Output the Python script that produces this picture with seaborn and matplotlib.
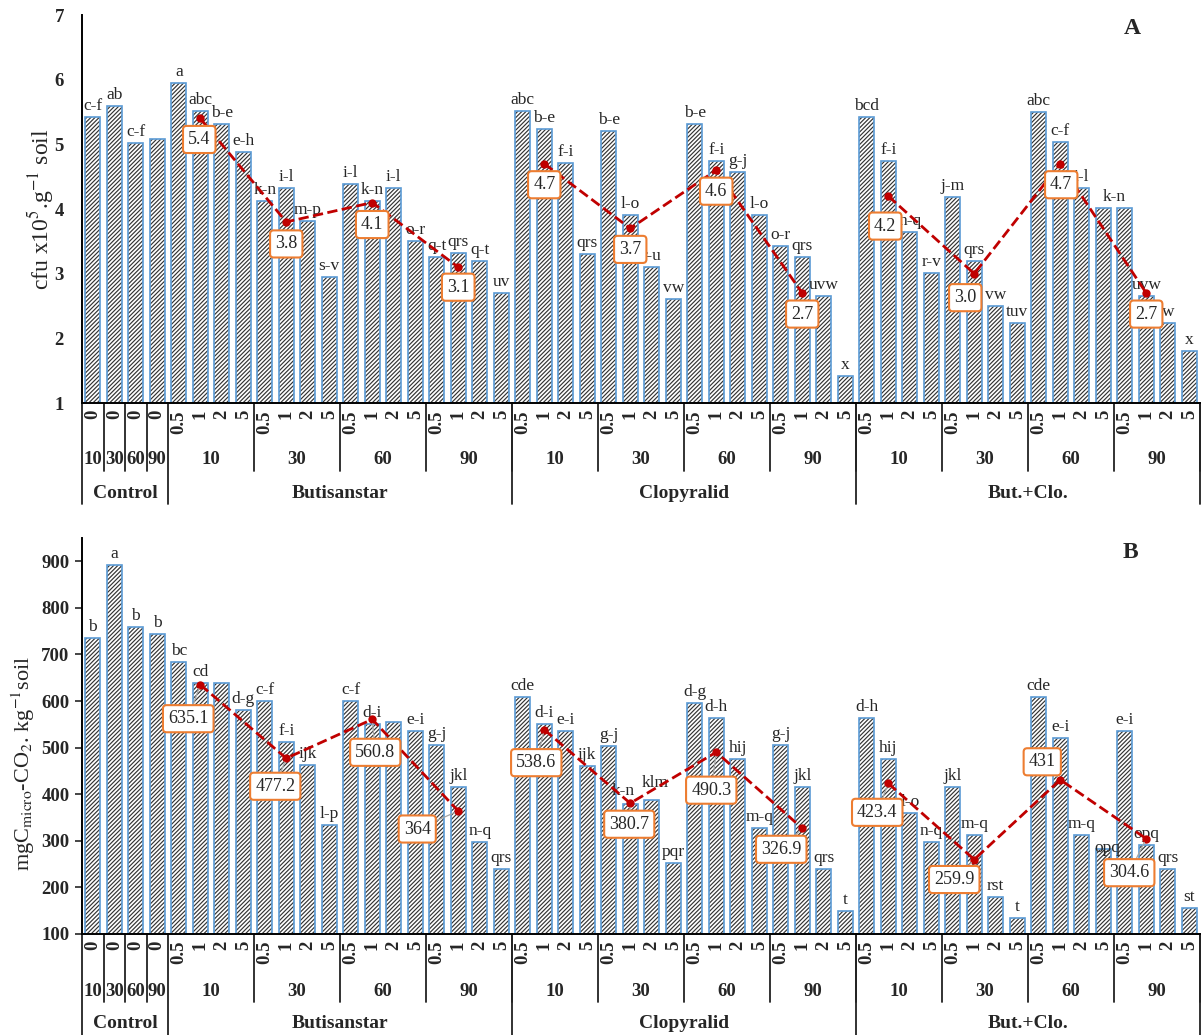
import numpy as np
import pandas as pd
import matplotlib
matplotlib.use("Agg")
import matplotlib.pyplot as plt
import seaborn as sns

herbicides = ["Control", "Butisanstar", "Clopyralid", "But.+Clo."]
days = ["10", "30", "60", "90"]
doses = ["0.5", "1", "2", "5"]

# panel A - cfu x10^5 / g soil (per herbicide: day 10, 30, 60, 90 x dose 0.5, 1, 2, 5)
cfu_control = [5.42, 5.60, 5.02, 5.08]
cfu_but = [5.95, 5.52, 5.32, 4.88, 4.12, 4.32, 3.81, 2.95,
           4.38, 4.12, 4.32, 3.51, 3.26, 3.32, 3.20, 2.70]
cfu_clo = [5.51, 5.24, 4.71, 3.31, 5.21, 3.90, 3.10, 2.61,
           5.31, 4.75, 4.57, 3.91, 3.43, 3.26, 2.66, 1.42]
cfu_mix = [5.42, 4.74, 3.65, 3.01, 4.18, 3.20, 2.50, 2.24,
           5.50, 5.04, 4.32, 4.01, 4.01, 2.65, 2.24, 1.81]
cfu_letters = ["c-f", "ab", "c-f", "",
               "a", "abc", "b-e", "e-h", "k-n", "i-l", "m-p", "s-v",
               "i-l", "k-n", "i-l", "o-r", "q-t", "qrs", "q-t", "uv",
               "abc", "b-e", "f-i", "qrs", "b-e", "l-o", "r-u", "vw",
               "b-e", "f-i", "g-j", "l-o", "o-r", "qrs", "uvw", "x",
               "bcd", "f-i", "n-q", "r-v", "j-m", "qrs", "vw", "tuv",
               "abc", "c-f", "i-l", "k-n", "", "uvw", "w", "x"]
cfu_means = [[5.4, 3.8, 4.1, 3.1], [4.7, 3.7, 4.6, 2.7], [4.2, 3.0, 4.7, 2.7]]

# panel B - mg C micro-CO2 / kg soil
co2_control = [736, 893, 758, 744]
co2_but = [684, 639, 639, 580, 600, 512, 462, 333,
           601, 551, 555, 536, 506, 416, 298, 239]
co2_clo = [609, 551, 536, 461, 504, 380, 388, 253,
           596, 564, 476, 327, 506, 416, 239, 149]
co2_mix = [564, 476, 359, 297, 416, 312, 179, 134,
           609, 520, 312, 282, 536, 291, 239, 156]
co2_letters = ["b", "a", "b", "b",
               "bc", "cd", "", "d-g", "c-f", "f-i", "ijk", "l-p",
               "c-f", "d-i", "", "e-i", "g-j", "jkl", "n-q", "qrs",
               "cde", "d-i", "e-i", "ijk", "g-j", "k-n", "klm", "pqr",
               "d-g", "d-h", "hij", "m-q", "g-j", "jkl", "qrs", "t",
               "d-h", "hij", "l-o", "n-q", "jkl", "m-q", "rst", "t",
               "cde", "e-i", "m-q", "opq", "e-i", "opq", "qrs", "st"]
co2_means = [[635.1, 477.2, 560.8, 364], [538.6, 380.7, 490.3, 326.9],
             [423.4, 259.9, 431, 304.6]]

# box offsets from the mean marker (pixels, right / down)
box_off_a = [[(-1, 21), (0, 22), (0, 22), (0, 20)],
             [(0, 21), (0, 21), (0, 21), (0, 21)],
             [(-3, 30), (-9, 24), (1, 21), (0, 21)]]
box_off_b = [[(-12, 34), (-11, 28), (3, 33), (-41, 18)],
             [(-8, 33), (-1, 21), (-5, 38), (-21, 21)],
             [(-11, 29), (-20, 20), (-18, -18), (-17, 34)]]
# a few letters sit off-centre in the original (slot: pixels right / up)
nudge_a = {47: (11, 0)}
nudge_b = {25: (-7, 2), 26: (3, 6), 47: (4, -10)}

HATCH = "#333333"
BLUE = "#5B9BD5"
RED = "#C00000"
ORANGE = "#ED7D31"
FS_TICK = 13.5

sns.set_style("white")
plt.rcParams["font.family"] = ["Liberation Serif", "DejaVu Serif"]
plt.rcParams["mathtext.fontset"] = "stix"
plt.rcParams["hatch.linewidth"] = 0.85

# slot layout: 4 control slots then herbicide x day x dose
slot_dose = ["0"] * 4 + doses * 12
slot_day = days + [d for _ in range(3) for d in days for _ in doses]


def draw_panel(ax, values, letters, means, fmt, offsets, leader, nudge):
    df = pd.DataFrame({"slot": np.arange(len(values)), "value": values})
    sns.barplot(data=df, x="slot", y="value", ax=ax, color="white", saturation=1,
                width=0.68, edgecolor=HATCH, linewidth=0, hatch="////////")
    sns.barplot(data=df, x="slot", y="value", ax=ax, color=BLUE, saturation=1,
                width=0.68, fill=False, linewidth=1.2)

    for i, (v, t) in enumerate(zip(values, letters)):
        if t:
            nx, ny = nudge.get(i, (0, 0))
            ax.annotate(t, (i, v), xytext=(nx, 3 + ny), textcoords="offset pixels",
                        ha="center", va="bottom", fontsize=12.5)

    rows = []
    for h, hm in enumerate(means):
        for d, m in enumerate(hm):
            rows.append({"x": 4 + h * 16 + d * 4 + 1, "mean": m, "herb": herbicides[h + 1],
                         "h": h, "d": d})
    mdf = pd.DataFrame(rows)
    sns.lineplot(data=mdf, x="x", y="mean", units="herb", estimator=None, ax=ax,
                 color=RED, linestyle="--", lw=2, marker="o", markersize=6,
                 markeredgewidth=0, zorder=5)

    for _, r in mdf.iterrows():
        dx, dy = offsets[int(r["h"])][int(r["d"])]
        arrow = dict(arrowstyle="-", color="#a6a6a6", lw=0.9, shrinkA=0, shrinkB=3) if leader else None
        ax.annotate(fmt(r["mean"]), (r["x"], r["mean"]), xytext=(dx, -dy),
                    textcoords="offset pixels", ha="center", va="center", fontsize=13,
                    bbox=dict(boxstyle="round,pad=0.28,rounding_size=0.2", fc="white",
                              ec=ORANGE, lw=1.5),
                    arrowprops=arrow, zorder=6)

    ax.set_xlim(-0.5, len(values) - 0.5)
    ax.set_xticks([])
    ax.set_xlabel("")
    sns.despine(ax=ax)
    for s in ["left", "bottom"]:
        ax.spines[s].set_color("black")
        ax.spines[s].set_linewidth(1.4)

    # multi-level category axis
    trans = ax.get_xaxis_transform()
    hpx = ax.bbox.height

    def fy(px):
        return -px / hpx

    for i, lab in enumerate(slot_dose):
        ax.text(i, fy(7), lab, rotation=90, ha="center", va="top", transform=trans,
                fontweight="bold", fontsize=FS_TICK)
    for i in range(4):
        ax.text(i, fy(57), slot_day[i], ha="center", va="center", transform=trans,
                fontweight="bold", fontsize=FS_TICK)
    for g in range(12):
        ax.text(4 + g * 4 + 1.5, fy(57), days[g % 4], ha="center", va="center",
                transform=trans, fontweight="bold", fontsize=FS_TICK)
    herb_centers = [1.5, 11.5, 27.5, 43.5]
    for x, name in zip(herb_centers, herbicides):
        ax.text(x, fy(90), name, ha="center", va="center", transform=trans,
                fontweight="bold", fontsize=FS_TICK + 0.5)
    day_bounds = [0.5, 1.5, 2.5] + [3.5 + 4 * k for k in range(1, 13)]
    herb_bounds = [-0.5, 3.5, 19.5, 35.5, 51.5]
    for x in day_bounds:
        ax.plot([x, x], [0, fy(68)], transform=trans, clip_on=False, color="#222222", lw=1.3)
    for x in herb_bounds:
        ax.plot([x, x], [0, fy(101)], transform=trans, clip_on=False, color="#222222", lw=1.3)


fig = plt.figure(figsize=(12.04, 10.35), dpi=100)
ax_a = fig.add_axes([82 / 1204, 1 - 403 / 1035, 1118 / 1204, 388 / 1035])
ax_b = fig.add_axes([82 / 1204, 1 - 934 / 1035, 1118 / 1204, 396 / 1035])

draw_panel(ax_a, cfu_control + cfu_but + cfu_clo + cfu_mix, cfu_letters, cfu_means,
           lambda v: f"{v:.1f}", box_off_a, False, nudge_a)
ax_a.set_ylim(1, 7)
ax_a.set_yticks(range(1, 8))
ax_a.tick_params(axis="y", length=0, pad=13)
for lab in ax_a.get_yticklabels():
    lab.set_fontweight("bold")
    lab.set_fontsize(FS_TICK)
ax_a.set_ylabel("cfu x10$^{5}$.g$^{-1}$ soil", fontsize=17)
ax_a.yaxis.set_label_coords(-0.023, 0.5)

draw_panel(ax_b, co2_control + co2_but + co2_clo + co2_mix, co2_letters, co2_means,
           lambda v: f"{v:g}", box_off_b, True, nudge_b)
ax_b.set_ylim(100, 950)
ax_b.set_yticks(range(100, 1000, 100))
ax_b.tick_params(axis="y", length=5, width=1.2, direction="out", pad=4, left=True)
for lab in ax_b.get_yticklabels():
    lab.set_fontweight("bold")
    lab.set_fontsize(FS_TICK)
ax_b.set_ylabel("mgC$_{\\mathrm{micro}}$-CO$_{2}$. kg$^{-1}$soil", fontsize=16)
ax_b.yaxis.set_label_coords(-0.04, 0.43)

fig.text(1132 / 1204, 1 - 28 / 1035, "A", fontsize=17, fontweight="bold", ha="center", va="center")
fig.text(1130 / 1204, 1 - 553 / 1035, "B", fontsize=17, fontweight="bold", ha="center", va="center")

fig.savefig("out.png", dpi=100)
